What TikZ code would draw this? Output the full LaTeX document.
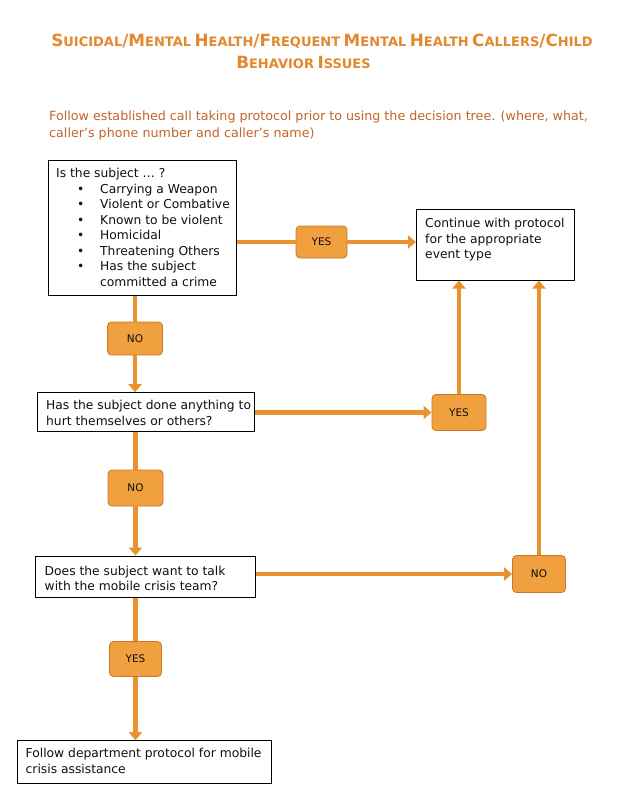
\documentclass[tikz,border=0pt]{standalone}
\usepackage{fontspec}
\setmainfont{DejaVu Sans}
\usetikzlibrary{arrows.meta,calc}
\definecolor{titlec}{RGB}{228,136,46}
\definecolor{subc}{RGB}{196,100,40}
\definecolor{arrowc}{RGB}{232,146,48}
\definecolor{decfill}{RGB}{240,160,62}
\definecolor{decedge}{RGB}{205,118,38}
\definecolor{txtc}{RGB}{15,15,15}
\newcommand\tsc[2]{{\fontsize{16.8}{19}\selectfont #1}{\fontsize{13}{19}\selectfont #2}}
\newcommand\tsl{{\fontsize{16.8}{19}\selectfont /}}
\begin{document}
\begin{tikzpicture}[x=1pt,y=-1pt,
  box/.style={draw=black, line width=1pt, fill=white, inner sep=0pt},
  txt/.style={inner sep=0pt, align=left, anchor=north west, text=txtc, font=\fontsize{12.3}{15.5}\selectfont},
  dec/.style={draw=decedge, line width=0.8pt, fill=decfill, rounded corners=4pt, inner sep=0pt, text=txtc, font=\fontsize{10.5}{12}\selectfont},
  conn/.style={draw=arrowc, line width=4.5pt},
  tip/.style={-{Triangle[width=13pt,length=8pt]}}
]
\fill[white] (0,0) rectangle (632,800);
\useasboundingbox (0,0) rectangle (632,800);

% title
\node[anchor=base, text=titlec, font=\bfseries, inner sep=0pt] (title1) at (322,47)
  {\tsc{S}{UICIDAL}\tsl\tsc{M}{ENTAL} \tsc{H}{EALTH}\tsl\tsc{F}{REQUENT} \tsc{M}{ENTAL} \tsc{H}{EALTH} \tsc{C}{ALLERS}\tsl\tsc{C}{HILD}};
\node[anchor=base, text=titlec, font=\bfseries, inner sep=0pt] (title2) at (303.5,68.5)
  {\tsc{B}{EHAVIOR} \tsc{I}{SSUES}};

% subtitle
\node[anchor=base west, text=subc, inner sep=0pt, font=\fontsize{12.7}{17}\selectfont] (sub1) at (49,120)
  {Follow established call taking protocol prior to using the decision tree. (where, what,};
\node[anchor=base west, text=subc, inner sep=0pt, font=\fontsize{12.7}{17}\selectfont] (sub2) at (49,137)
  {caller’s phone number and caller’s name)};

% boxes
\node[box, minimum width=188.5pt, minimum height=135.5pt] (b1) at (142.25,227.75) {};
\node[box, minimum width=158.2pt, minimum height=70.7pt] (b2) at (495.6,244.65) {};
\node[box, minimum width=217pt, minimum height=39pt] (b3) at (145.8,412.2) {};
\node[box, minimum width=219.5pt, minimum height=41pt] (b4) at (145.25,576.5) {};
\node[box, minimum width=254.4pt, minimum height=42.6pt] (b5) at (144.5,762) {};

\node[txt] (t1) at (56,168) {Is the subject … ?\\
\hspace*{21pt}\makebox[23pt][l]{•}Carrying a Weapon\\
\hspace*{21pt}\makebox[23pt][l]{•}Violent or Combative\\
\hspace*{21pt}\makebox[23pt][l]{•}Known to be violent\\
\hspace*{21pt}\makebox[23pt][l]{•}Homicidal\\
\hspace*{21pt}\makebox[23pt][l]{•}Threatening Others\\
\hspace*{21pt}\makebox[23pt][l]{•}Has the subject\\
\hspace*{44pt}committed a crime};
\node[txt] (t2) at (425,218) {Continue with protocol\\for the appropriate\\event type};
\node[txt] (t3) at (46,400.3) {Has the subject done anything to\\hurt themselves or others?};
\node[txt] (t4) at (44.5,565.5) {Does the subject want to talk\\with the mobile crisis team?};
\node[txt] (t5) at (25.5,748) {Follow department protocol for mobile\\crisis assistance};

% decision labels
\node[dec, minimum width=51pt, minimum height=32pt] (yes1) at (321.5,242) {YES};
\node[dec, minimum width=55pt, minimum height=33pt] (no1) at (135,338.5) {NO};
\node[dec, minimum width=54pt, minimum height=36pt] (yes2) at (459,412.5) {YES};
\node[dec, minimum width=55pt, minimum height=36pt] (no2) at (135.5,488) {NO};
\node[dec, minimum width=53pt, minimum height=37pt] (no3) at (539,574) {NO};
\node[dec, minimum width=52pt, minimum height=35pt] (yes3) at (135.5,659) {YES};

% connectors
\draw[conn] (yes1.west -| b1.east) -- (yes1.west);
\draw[conn,tip] (yes1.east) -- (yes1.east -| b2.west);
\draw[conn] (no1.north |- b1.south) -- (no1.north);
\draw[conn,tip] (no1.south) -- (no1.south |- b3.north);
\draw[conn,tip] (yes2.west -| b3.east) -- (yes2.west);
\draw[conn,tip] (yes2.north) -- (yes2.north |- b2.south);
\draw[conn] (no2.north |- b3.south) -- (no2.north);
\draw[conn,tip] (no2.south) -- (no2.south |- b4.north);
\draw[conn,tip] (no3.west -| b4.east) -- (no3.west);
\draw[conn,tip] (no3.north) -- (no3.north |- b2.south);
\draw[conn] (yes3.north |- b4.south) -- (yes3.north);
\draw[conn,tip] (yes3.south) -- (yes3.south |- b5.north);
\end{tikzpicture}
\end{document}
